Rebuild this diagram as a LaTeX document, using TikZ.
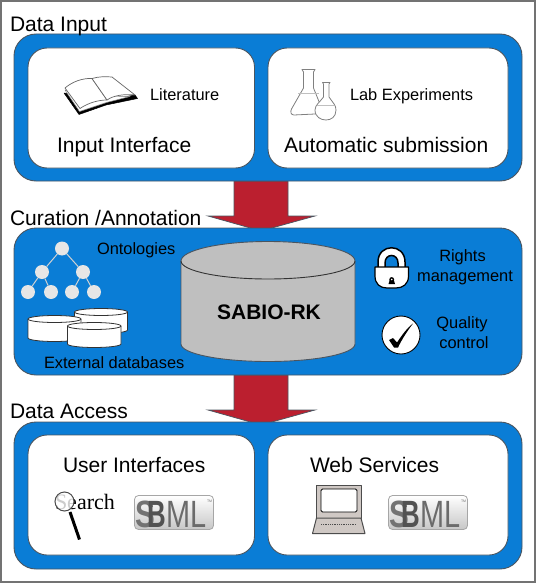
\documentclass[tikz,border=0pt]{standalone}
\usepackage{fontspec}
\setmainfont{Liberation Sans}
\newfontfamily\serifsearch{Liberation Serif}
\usetikzlibrary{shadings}
\definecolor{panelblue}{HTML}{0A7DD6}
\definecolor{arrowred}{HTML}{BB1F2F}
\definecolor{edgegray}{HTML}{4A5560}
\definecolor{cylgray}{HTML}{BFBFBF}
\definecolor{treenode}{HTML}{E6E6E6}
\definecolor{laptopfill}{HTML}{CFC8C4}
\tikzset{
  lbl/.style={anchor=base west,inner sep=0pt,outer sep=0pt,text=black},
  lblc/.style={anchor=base,inner sep=0pt,outer sep=0pt,text=black},
  big/.style={font=\fontsize{21}{21}\selectfont},
  small/.style={font=\fontsize{16.4}{16.4}\selectfont},
  panel/.style={draw=edgegray,line width=0.9pt,fill=panelblue,rounded corners=22pt},
  card/.style={draw=edgegray,line width=0.9pt,fill=white,rounded corners=19pt},
  flow/.style={draw=edgegray,line width=0.7pt,fill=arrowred},
  treeball/.style={circle,fill=treenode,draw=none,minimum size=14pt,inner sep=0pt},
  treeedge/.style={draw=treenode!80!gray,line width=1pt},
  flask/.style={draw=black!50,line width=0.8pt,fill=white,line join=round}
}
\newcommand{\dbdisk}[5]{% x0 x1 ytop ybot ry
  \path[draw=black!80,line width=0.8pt,fill=white]
    (#1,#3) -- (#1,#4) arc[start angle=180,end angle=0,x radius={(#2-#1)/2},y radius=#5] -- (#2,#3)
    arc[start angle=0,end angle=-180,x radius={(#2-#1)/2},y radius=#5] -- cycle;
  \path[draw=black!80,line width=0.8pt]
    (#1,#3) arc[start angle=180,end angle=0,x radius={(#2-#1)/2},y radius=#5];
}
\newcommand{\sbmllogo}[3]{% x y name
  \begin{scope}[shift={(#1,#2)}]
    \path[draw=black!35,line width=0.8pt,rounded corners=4pt,top color=white,bottom color=black!22]
      (0,0) rectangle (79,34);
    \node[lbl,text=black!55,font=\fontsize{38}{38}\selectfont\bfseries] (#3s) at (0.5,31.5) {\scalebox{0.78}[1]{S}};
    \node[lbl,text=black!68,font=\fontsize{38}{38}\selectfont\bfseries] (#3b) at (13,31.5) {\scalebox{0.68}[1]{B}};
    \node[lbl,text=black!58,font=\fontsize{38}{38}\selectfont] (#3m) at (31.5,31.5) {\scalebox{0.76}[1]{ML}};
    \node[lbl,text=black!55,font=\fontsize{3.5}{3.5}\selectfont] (#3t) at (72.5,6.5) {TM};
  \end{scope}
}
\begin{document}
\begin{tikzpicture}[x=1pt,y=-1pt]
\useasboundingbox (0,0) rectangle (536,583);
\fill[white] (0,0) rectangle (536,583);
\draw[black!55,line width=1.6pt] (0.8,0.8) rectangle (535,581.8);

% flows
\path[flow] (234,181) -- (288,181) -- (288,216) -- (315,216) -- (261,231) -- (208,216) -- (234,216) -- cycle;
\path[flow] (234,375) -- (288,375) -- (288,410) -- (315,410) -- (261,425) -- (208,410) -- (234,410) -- cycle;

% panels
\path[panel] (14,34) rectangle (522,181);
\path[card] (28,48) rectangle (254.5,168);
\path[card] (268,48) rectangle (508,168);
\path[panel] (14,228) rectangle (522,375);
\path[panel] (14,422) rectangle (522,569);
\path[card] (28,435) rectangle (254.5,555);
\path[card] (268,435) rectangle (508,555);

% headings
\node[lbl,big] (h1) at (10,32) {Data Input};
\node[lbl,big] (h2) at (10,225) {Curation /Annotation};
\node[lbl,big] (h3) at (10,418) {Data Access};

% book
\path[fill=black,draw=black,line width=0.5pt,line join=round]
  (64,93) -- (79,114.5) -- (106,105) -- (137.5,98.5) -- (135,95) -- (107,100) -- cycle;
\path[fill=white,draw=black!50,line width=0.5pt,line join=round]
  (65,90) -- (79.5,111.5) -- (106.5,102.5) -- (130,96.5) -- (107,96) -- cycle;
\path[fill=white,draw=black!60,line width=0.7pt,line join=round]
  (65,88) .. controls (72,82) and (82,78) .. (92,78.5) -- (107,100) .. controls (98,100) and (88,103) .. (80,108.5) -- cycle;
\path[fill=white,draw=black!60,line width=0.7pt,line join=round]
  (92,78.5) .. controls (99,76.5) and (105,76.5) .. (112,77) -- (135,95) .. controls (125,94) and (114,95) .. (107,100) -- cycle;
\node[lbl,small] (lit) at (150,101) {Literature};
\node[lbl,big] (ii) at (57,152) {Input Interface};

% flasks
\path[flask] (302,69.5) -- (315,69.5) -- (313.5,72) -- (313.5,88) -- (322,109) -- (315,114) -- (294,115)
  .. controls (291,115) and (290,112) .. (291.5,109) -- (303.5,88) -- (303.5,72) -- cycle;
\draw[black!25,line width=0.8pt] (298,93.5) -- (318.5,93.5);
\path[flask] (322.5,82.5) -- (330,82.5) -- (329,84) -- (329,97) .. controls (333,103) and (336,105) .. (336,110)
  .. controls (336,117) and (331,120) .. (326,120) .. controls (321,120) and (315,117) .. (315,110)
  .. controls (315,105) and (320,102) .. (323.5,97) -- (323.5,84) -- cycle;
\draw[black!25,line width=0.8pt] (317,105) -- (334,105);
\node[lbl,small] (lab) at (350,101) {Lab Experiments};
\node[lbl,big] (as) at (284,152) {Automatic submission};

% ontology tree
\node[treeball] (t0) at (62,248.5) {};
\node[treeball] (t1) at (42,272) {};
\node[treeball] (t2) at (83,272) {};
\node[treeball] (t3) at (28,292) {};
\node[treeball] (t4) at (51,292) {};
\node[treeball] (t5) at (72,292) {};
\node[treeball] (t6) at (94,292) {};
\path[treeedge] (t0) -- (t1);
\path[treeedge] (t0) -- (t2);
\path[treeedge] (t1) -- (t3);
\path[treeedge] (t1) -- (t4);
\path[treeedge] (t2) -- (t5);
\path[treeedge] (t2) -- (t6);
\node[lbl,small] (ont) at (97,254) {Ontologies};

% external databases
\dbdisk{74.5}{127.5}{312}{330}{3.5}
\dbdisk{28}{81}{319}{338}{3.5}
\dbdisk{67.5}{121}{326}{344}{3.5}
\node[lbl,small] (ext) at (44,368) {External databases};

% SABIO-RK cylinder
\path[draw=edgegray,line width=0.9pt,fill=cylgray]
  (181,261) -- (181,344) arc[start angle=180,end angle=0,x radius=87,y radius=17.5] -- (355,261)
  arc[start angle=0,end angle=-180,x radius=87,y radius=19.5] -- cycle;
\path[draw=black!80,line width=0.9pt] (181,261) arc[start angle=180,end angle=0,x radius=87,y radius=18];
\node[lblc,font=\fontsize{21}{21}\selectfont\bfseries] (sabio) at (269,319.5) {SABIO-RK};

% lock
\path[draw=black,line width=1.5pt,fill=white,even odd rule]
  (378,268) -- (378,262) .. controls (378,243) and (405,243) .. (405,262) -- (405,268) -- (398,268) -- (398,263)
  .. controls (398,253) and (385,253) .. (385,263) -- (385,268) -- cycle;
\path[draw=black,line width=1.2pt,fill=white,line join=round]
  (375,267) -- (408.5,267) -- (408.5,276) .. controls (408.5,284) and (403,288) .. (396,288) -- (387,288)
  .. controls (380,288) and (375,284) .. (375,276) -- cycle;
\fill[black] (391.7,279.5) circle (2.4pt);
\fill[black] (388.5,284) -- (395,284) -- (393.5,279) -- (390,279) -- cycle;
\fill[white] (391.7,279.5) circle (0.8pt);
\node[lblc,small] (r1) at (462.5,261) {Rights};
\node[lblc,small] (r2) at (465,281) {management};

% quality
\path[draw=black,line width=0.9pt,fill=white] (401,335) circle (19pt);
\fill[black] (389,340) -- (393,338) -- (397,342.5) .. controls (402,335) and (407,328) .. (413,323.5)
  .. controls (408,330) and (402,339) .. (398,347.5) -- (394,347.5) -- cycle;
\node[lblc,small] (q1) at (462,328) {Quality};
\node[lblc,small] (q2) at (464,348) {control};

% user interfaces
\node[lbl,big] (ui) at (63,472) {User Interfaces};
\node[lbl,font=\fontsize{22}{22}\selectfont\serifsearch] (sr) at (55,509) {Search};
\path[draw=black!70,line width=1pt,fill=white,fill opacity=0.8] (64.5,501.5) circle (9.5pt);
\path[draw=black,line width=3pt] (70,512) -- (79.5,539.5);
\sbmllogo{134.5}{495.5}{sa}

% web services
\node[lbl,big] (ws) at (310,472) {Web Services};
\path[draw=black!70,line width=1pt,fill=laptopfill,line join=round] (316.5,485) rectangle (361,518);
\path[draw=black,line width=0.9pt,fill=white,rounded corners=1.5pt] (321,489) rectangle (357,512);
\path[draw=black!70,line width=1pt,fill=laptopfill,line join=round] (316.5,518) -- (361,518) -- (365,533.5) -- (312.5,533.5) -- cycle;
\draw[black!70,line width=0.8pt,densely dotted] (321,524.5) -- (356,524.5);
\sbmllogo{388.5}{495.5}{sb}
\end{tikzpicture}
\end{document}
